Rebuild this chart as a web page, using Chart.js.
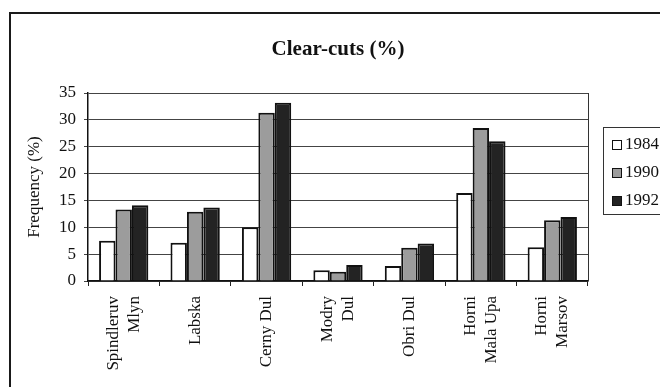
<!DOCTYPE html>
<html>
<head>
<meta charset="utf-8">
<script src="https://cdn.jsdelivr.net/npm/chart.js@4/dist/chart.umd.min.js"></script>
<style>
  html, body { margin: 0; padding: 0; background: #fff; overflow: hidden; }
  #wrap { position: relative; width: 660px; height: 387px; overflow: hidden; }
  #frame {
    position: absolute; left: 9px; top: 12px; width: 700px; height: 420px;
    border-left: 2px solid #1a1a1a; border-top: 2px solid #1a1a1a;
  }
  #clearCutsChart { position: absolute; left: 0; top: 0; }
  #legend {
    position: absolute; left: 603px; top: 127px; width: 80px; height: 86px;
    border: 1px solid #333; font-family: 'Liberation Serif', serif; font-size: 17px; color: #111;
  }
  .item { position: absolute; left: 8px; height: 20px; line-height: 20px; white-space: nowrap; }
  .swatch {
    display: inline-block; width: 8px; height: 8px; border: 1.5px solid #111;
    margin-right: 3px; vertical-align: -1px;
  }
</style>
</head>
<body>
<div id="wrap">
  <div id="frame"></div>
  <canvas id="clearCutsChart" width="660" height="387"></canvas>
  <div id="legend"></div>
</div>
<script>
// Localidades (etiquetas en dos líneas cuando hace falta)
const localities = [['Spindleruv', 'Mlyn'], 'Labska', 'Cerny Dul', ['Modry', 'Dul'], 'Obri Dul', ['Horni', 'Mala Upa'], ['Horni', 'Marsov']];

// Porcentaje de talas rasas por año
const years = ['1984', '1990', '1992'];
const cuts1984 = [7.5, 7.1, 10.0, 2.0, 2.8, 16.4, 6.3];
const cuts1990 = [13.3, 12.9, 31.3, 1.7, 6.2, 28.5, 11.3];
const cuts1992 = [14.1, 13.7, 33.2, 3.0, 7.0, 26.0, 11.9];

// Eje Y
const yMax = 35;
const yStep = 5;

const barColors = ['#ffffff', '#9c9c9c', '#232323'];
const serif = "'Liberation Serif', 'Times New Roman', serif";

// Centra las etiquetas de varias líneas sobre su marca
const centerMultiline = {
  id: 'centerMultiline',
  beforeDraw(chart) {
    const items = chart.scales.x.getLabelItems();
    items.forEach(item => {
      if (item._centered || !Array.isArray(item.label)) return;
      const lh = item.font.lineHeight;
      item.options.translation[0] -= (item.label.length - 1) * lh / 2;
      item._centered = true;
    });
  }
};

// Borde derecho del área de trazado
const plotBorder = {
  id: 'plotBorder',
  afterDraw(chart) {
    const { ctx, chartArea } = chart;
    ctx.save();
    ctx.strokeStyle = '#333';
    ctx.lineWidth = 1;
    ctx.beginPath();
    ctx.moveTo(chartArea.right + 0.5, chartArea.top);
    ctx.lineTo(chartArea.right + 0.5, chartArea.bottom);
    ctx.stroke();
    ctx.restore();
  }
};

const ctx = document.getElementById('clearCutsChart').getContext('2d');
const clearCutsChart = new Chart(ctx, {
  type: 'bar',
  data: {
    labels: localities,
    datasets: [cuts1984, cuts1990, cuts1992].map((values, i) => ({
      label: years[i],
      data: values,
      backgroundColor: barColors[i],
      borderColor: '#111',
      borderWidth: 2,
      barPercentage: 1.0,
      categoryPercentage: 0.69
    }))
  },
  options: {
    responsive: false,
    animation: false,
    layout: { padding: { left: 0, right: 72, top: 0, bottom: 0 } },
    plugins: {
      legend: { display: false },
      tooltip: { enabled: false },
      title: {
        display: true,
        text: 'Clear-cuts (%)',
        fullSize: false,
        color: '#111',
        font: { family: serif, size: 21, weight: 'bold' },
        padding: { top: 37, bottom: 30.8 }
      }
    },
    scales: {
      x: {
        afterFit: scale => { scale.height = 106; },
        grid: { drawOnChartArea: false, drawTicks: true, tickLength: 5, color: '#222' },
        border: { color: '#111', width: 1.5 },
        ticks: {
          autoSkip: false,
          minRotation: 90,
          maxRotation: 90,
          padding: 10,
          color: '#111',
          font: { family: serif, size: 17, lineHeight: 1.25 }
        }
      },
      y: {
        min: 0,
        max: yMax,
        afterFit: scale => { scale.width = 88; },
        grid: { color: '#444', lineWidth: 1, tickLength: 4 },
        border: { color: '#111', width: 1.5 },
        ticks: {
          stepSize: yStep,
          padding: 8,
          color: '#111',
          font: { family: serif, size: 17 }
        },
        title: {
          display: true,
          text: 'Frequency (%)',
          color: '#111',
          font: { family: serif, size: 17 },
          padding: { top: 24, bottom: 0 }
        }
      }
    }
  },
  plugins: [centerMultiline, plotBorder]
});

// Leyenda construida a partir de los datasets
const legend = document.getElementById('legend');
const rowCenters = [16, 44, 72];
clearCutsChart.data.datasets.forEach((ds, i) => {
  const item = document.createElement('div');
  item.className = 'item';
  item.style.top = (rowCenters[i] - 10) + 'px';
  const swatch = document.createElement('span');
  swatch.className = 'swatch';
  swatch.style.background = ds.backgroundColor;
  item.appendChild(swatch);
  item.appendChild(document.createTextNode(ds.label));
  legend.appendChild(item);
});
</script>
</body>
</html>
